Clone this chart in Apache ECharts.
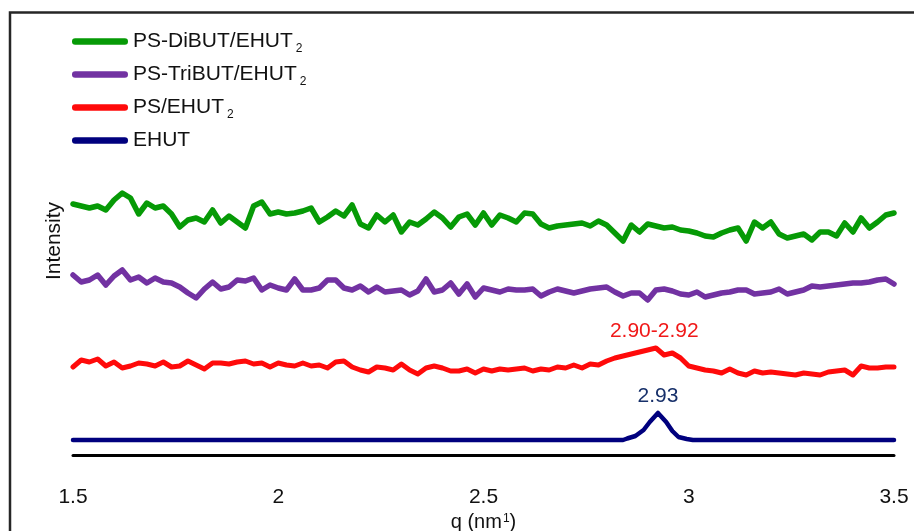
<!DOCTYPE html>
<html>
<head>
<meta charset="utf-8">
<title>SAXS q profiles</title>
<script src="https://cdn.jsdelivr.net/npm/echarts@6/dist/echarts.min.js"></script>
<style>
  html, body { margin: 0; padding: 0; background: #fff; }
  #chart { width: 914px; height: 531px; }
</style>
</head>
<body>
<div id="chart"></div>
<script>
// --- data (intensity in arbitrary units) ---
var qStart = 1.5, qStep = 0.02;  // sampling of the noisy traces

var diButI = [251,249,247,249,245,255,262,257,241,252,247,249,241,228,235,237,233,245,232,239,
  233,227,249,253,241,243,241,242,244,247,233,238,244,239,250,231,227,240,233,240,
  223,233,230,236,243,237,228,238,241,230,242,230,240,237,233,242,241,231,227,229,
  230,231,232,229,234,230,222,214,230,223,231,229,227,228,225,224,222,219,218,222,
  225,227,214,233,227,233,221,217,219,221,215,223,223,219,232,223,237,227,233,240,242];

var triButI = [180,173,175,180,170,179,185,175,178,172,177,173,172,168,162,157,166,173,166,168,
  175,174,177,165,170,167,165,176,165,165,167,175,175,167,165,169,163,168,163,164,
  165,160,164,176,163,165,172,161,171,158,167,165,163,166,165,165,166,159,163,166,
  164,162,164,166,167,168,163,159,162,162,155,165,166,164,161,160,163,158,160,162,
  163,165,165,161,162,163,166,161,163,165,169,168,169,170,171,172,172,173,175,176,171];

var psI = [88,95,93,96,89,93,87,89,92,91,89,93,88,89,94,90,86,92,92,91,
  93,94,91,92,88,92,90,89,92,89,90,87,93,94,88,85,83,88,87,85,
  91,85,81,87,89,87,84,84,86,82,86,84,86,85,86,87,84,86,85,88,
  87,90,87,91,90,94,97,99,101,103,105,107,100,102,97,89,87,85,84,82,
  86,82,80,84,82,83,82,81,80,82,81,80,83,84,85,80,89,87,87,88,88];

var ehutQ = [1.5, 2.84, 2.85, 2.87, 2.89, 2.905, 2.925, 2.945, 2.96, 2.975, 2.995, 3.01, 3.5];
var ehutI = [15, 15, 16.5, 19, 25, 33, 42, 33, 24, 18, 16, 15, 15];

var seriesNames = ['PS-DiBUT/EHUT2', 'PS-TriBUT/EHUT2', 'PS/EHUT2', 'EHUT'];
var seriesColors = ['#069a06', '#7232a2', '#ff0a0a', '#00007e'];
var xTicks = ['1.5', '2', '2.5', '3', '3.5'];

function toPairs(vals) {
  var out = [];
  for (var i = 0; i < vals.length; i++) {
    out.push([+(qStart + i * qStep).toFixed(2), vals[i]]);
  }
  return out;
}

var ehutData = [];
for (var k = 0; k < ehutQ.length; k++) ehutData.push([ehutQ[k], ehutI[k]]);

var FONT = 'Liberation Sans, Arial, sans-serif';

var myChart = echarts.init(document.getElementById('chart'), null, { renderer: 'canvas' });

function lineSeries(idx, data, width, extra) {
  var s = {
    name: seriesNames[idx],
    type: 'line',
    data: data,
    showSymbol: false,
    symbol: 'none',
    color: seriesColors[idx],
    lineStyle: { width: width, color: seriesColors[idx], cap: 'round', join: 'round' },
    z: 3
  };
  for (var key in extra) s[key] = extra[key];
  return s;
}

function noteLabel(coord, text, color) {
  return {
    symbol: 'circle',
    symbolSize: 1,
    itemStyle: { color: 'rgba(0,0,0,0)' },
    label: { show: true, position: 'inside', color: color, fontSize: 21, fontFamily: FONT,
      formatter: text },
    data: [{ coord: coord, value: text }]
  };
}

var capsule = 'path://M3,0 L50,0 A3,3 0 0 1 50,6 L3,6 A3,3 0 0 1 3,0 Z';

myChart.setOption({
  animation: false,
  backgroundColor: '#fff',
  grid: { left: 73, right: 20, top: 155, bottom: 76, containLabel: false, outerBoundsMode: 'none' },
  legend: {
    orient: 'vertical',
    left: 67,
    top: 23,
    itemWidth: 56,
    itemHeight: 7,
    itemGap: 6,
    icon: capsule,
    data: seriesNames,
    formatter: function (name) {
      return name.slice(-1) === '2' ? name.slice(0, -1) + '{sub|2}' : name;
    },
    textStyle: {
      fontSize: 21, fontFamily: FONT, color: '#111', lineHeight: 27,
      rich: {
        sub: { fontSize: 12, fontFamily: FONT, color: '#111', lineHeight: 12,
          verticalAlign: 'bottom', padding: [0, 0, 0, 3] }
      }
    }
  },
  xAxis: {
    type: 'value',
    min: 1.5,
    max: 3.5,
    interval: 0.5,
    axisLine: { show: true, onZero: false, lineStyle: { color: '#000', width: 3 } },
    axisTick: { show: false },
    splitLine: { show: false },
    axisLabel: {
      margin: 32, fontSize: 21, fontFamily: FONT, color: '#111',
      formatter: function (v) { return xTicks[Math.round((v - 1.5) / 0.5)]; }
    },
    name: 'q (nm{sup|1})',
    nameLocation: 'middle',
    nameGap: 53,
    nameTextStyle: {
      fontSize: 20, fontFamily: FONT, color: '#111',
      rich: { sup: { fontSize: 12, fontFamily: FONT, color: '#111', verticalAlign: 'top',
        lineHeight: 20, padding: [0, 0, 0, 1] } }
    }
  },
  yAxis: {
    type: 'value',
    min: 0,
    max: 300,
    show: false
  },
  graphic: [
    { type: 'polyline', shape: { points: [[10, 531], [10, 12.5], [914, 12.5]] },
      style: { stroke: '#262626', lineWidth: 2.5, fill: null }, silent: true },
    { type: 'text', x: 54, y: 241, rotation: Math.PI / 2,
      style: { text: 'Intensity', fill: '#111', fontSize: 21, fontFamily: FONT,
        align: 'center', verticalAlign: 'middle' } }
  ],
  series: [
    lineSeries(0, toPairs(diButI), 5.5, {}),
    lineSeries(1, toPairs(triButI), 5.5, {}),
    lineSeries(2, toPairs(psI), 5, { markPoint: noteLabel([2.916, 124], '2.90-2.92', '#f01818') }),
    lineSeries(3, ehutData, 4.5, { markPoint: noteLabel([2.925, 59], '2.93', '#17306a') })
  ]
});
</script>
</body>
</html>
